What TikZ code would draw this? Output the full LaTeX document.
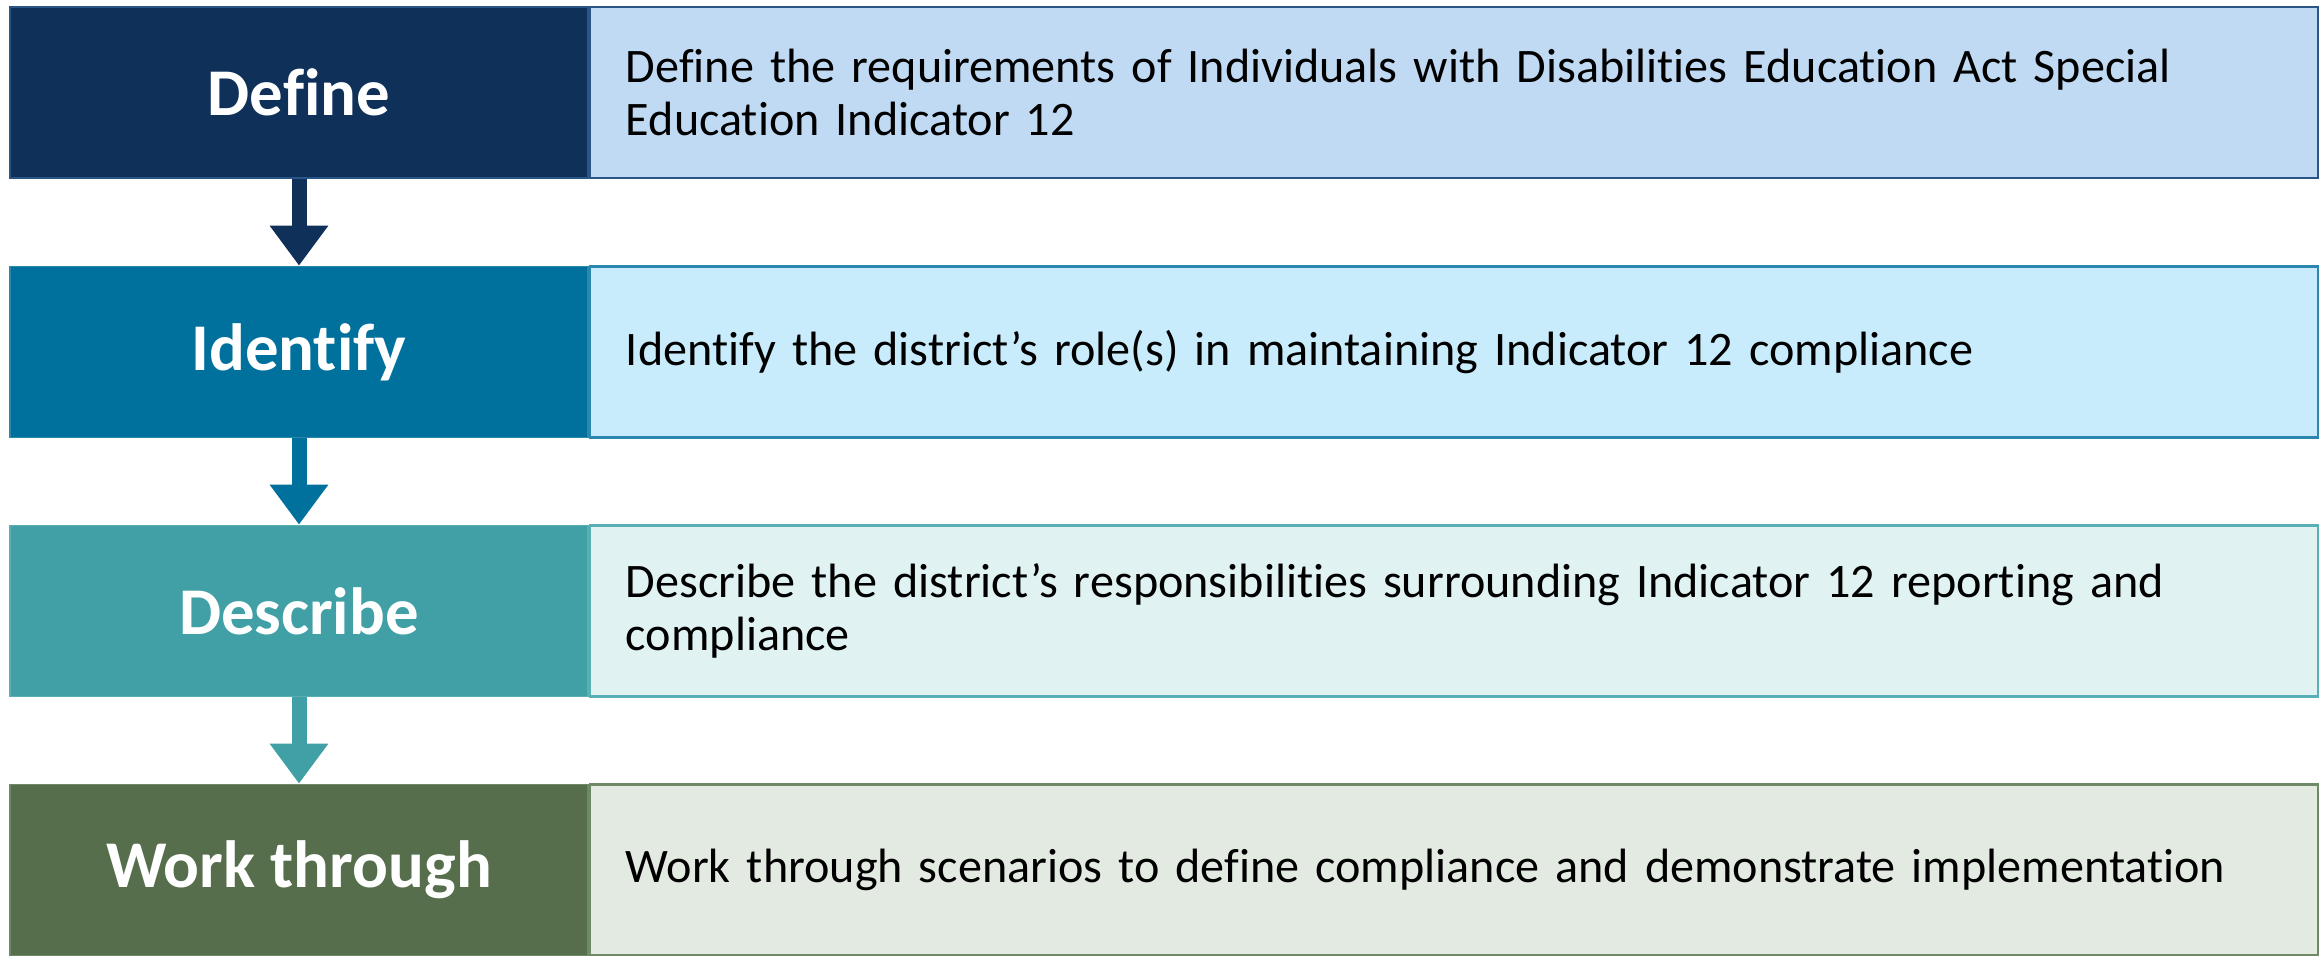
\documentclass[tikz,border=0pt]{standalone}
\usepackage{fontspec}
\setmainfont[Ligatures=NoCommon]{Carlito}
\usepackage{tikz}
\usepackage{xcolor}
\usetikzlibrary{arrows.meta, positioning}

\definecolor{defineFill}{HTML}{0E3059}
\definecolor{defineLight}{HTML}{C0DAF4}
\definecolor{defineLine}{HTML}{2B5586}
\definecolor{identifyFill}{HTML}{00719C}
\definecolor{identifyLight}{HTML}{C8ECFC}
\definecolor{identifyLine}{HTML}{2B87AC}
\definecolor{describeFill}{HTML}{40A0A5}
\definecolor{describeLight}{HTML}{E0F2F2}
\definecolor{describeLine}{HTML}{5AAFB4}
\definecolor{workFill}{HTML}{566E4C}
\definecolor{workLight}{HTML}{E3EAE2}
\definecolor{workLine}{HTML}{6D8966}

\begin{document}
\begin{tikzpicture}[
  stepname/.style={minimum width=5.78cm, minimum height=1.71cm, inner sep=0pt, line width=0.5pt,
    text=white, font=\fontsize{19}{22}\selectfont\bfseries},
  stepdesc/.style={anchor=west, minimum height=1.71cm, inner xsep=0.36cm, inner ysep=0pt,
    text width=16.56cm, align=left, line width=0.6pt, text=black, font=\fontsize{13.7}{15.2}\selectfont},
  flowarrow/.style={line width=0.15cm, -{Triangle[width=0.56cm,length=0.4cm]}}
]
\useasboundingbox (0,0) rectangle (23.23,-9.55);

% Define
\node[stepname, fill=defineFill, draw=defineLine] (define) at (2.99,-0.925) {Define};
\node[stepdesc, fill=defineLight, draw=defineLine] (defineText) at (define.east)
  {Define the requirements of Individuals with Disabilities Education Act Special\\Education Indicator 12};

% Identify
\node[stepname, fill=identifyFill, draw=identifyLine] (identify) at (2.99,-3.52) {Identify};
\node[stepdesc, fill=identifyLight, draw=identifyLine] (identifyText) at (identify.east)
  {Identify the district’s role(s) in maintaining Indicator 12 compliance};

% Describe
\node[stepname, fill=describeFill, draw=describeLine] (describe) at (2.99,-6.11) {Describe};
\node[stepdesc, fill=describeLight, draw=describeLine] (describeText) at (describe.east)
  {Describe the district’s responsibilities surrounding Indicator 12 reporting and\\compliance};

% Work through
\node[stepname, fill=workFill, draw=workLine] (work) at (2.99,-8.70) {Work through};
\node[stepdesc, fill=workLight, draw=workLine] (workText) at (work.east)
  {Work through scenarios to define compliance and demonstrate implementation};

% Arrows between steps
\draw[flowarrow, defineFill] (define.south) -- (identify.north);
\draw[flowarrow, identifyFill] (identify.south) -- (describe.north);
\draw[flowarrow, describeFill] (describe.south) -- (work.north);
\end{tikzpicture}
\end{document}
